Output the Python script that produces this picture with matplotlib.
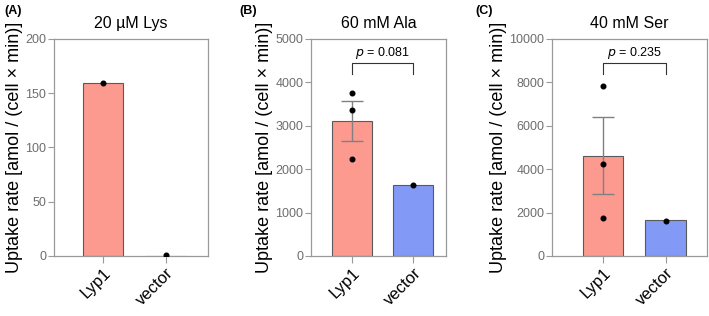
import matplotlib
matplotlib.use("Agg")
import matplotlib.pyplot as plt

plt.rcParams["font.family"] = ["Liberation Sans", "DejaVu Sans"]

# --- data ------------------------------------------------------------------
groups = ["Lyp1", "vector"]

titles = ["20 \u00b5M Lys", "60 mM Ala", "40 mM Ser"]
panel_labels = ["(A)", "(B)", "(C)"]
ymax = [200, 5000, 10000]
ystep = [50, 1000, 2000]

lys_means = [159, 0]
lys_points = [[159], [1]]

ala_means = [3110, 1636]
ala_err = [455, 0]
ala_points = [[3756, 3357, 2242], [1630]]

ser_means = [4622, 1650]
ser_err = [1765, 0]
ser_points = [[7850, 4255, 1767], [1630]]

p_values = [None, "0.081", "0.235"]

# --- styling ---------------------------------------------------------------
COLORS = ["#FC9A90", "#8399F6"]
EDGE = "#5a5a5a"
SPINE = "#9a9a9a"
TICKTXT = "#6e6e6e"

# axes placement in figure fractions (left, width), x limits, panel-label x
layout = [
    (0.0762, 0.2172, (-0.778, 1.667), 4 / 709),
    (0.4386, 0.1904, (-0.667, 1.53), 239 / 709),
    (0.7786, 0.2186, (-0.816, 1.664), 475 / 709),
]
bottom, height = 0.190, 0.687

fig = plt.figure(figsize=(7.09, 3.16), dpi=100)

panels = [
    (lys_means, None, lys_points),
    (ala_means, ala_err, ala_points),
    (ser_means, ser_err, ser_points),
]

for i, (means, err, points) in enumerate(panels):
    left, width, xlim, lab_x = layout[i]
    ax = fig.add_axes([left, bottom, width, height])
    x = list(range(len(groups)))

    ax.bar(x, means, width=0.65, color=COLORS, edgecolor=EDGE, linewidth=0.8, zorder=2)
    if err is not None:
        ax.errorbar(x[0], means[0], yerr=err[0], fmt="none", ecolor="#808080",
                    elinewidth=1.0, capsize=8, capthick=1.0, zorder=3)
    for xi, pts in zip(x, points):
        ax.scatter([xi] * len(pts), pts, s=11, color="black", zorder=4)

    ax.set_xlim(*xlim)
    ax.set_ylim(0, ymax[i])
    ax.set_yticks(range(0, ymax[i] + 1, ystep[i]))
    ax.set_xticks(x)
    ax.set_xticklabels(groups, rotation=45, ha="right", rotation_mode="anchor",
                       fontsize=12)
    ax.tick_params(axis="y", labelsize=9, labelcolor=TICKTXT, color=SPINE,
                   length=4, width=0.8, pad=1.5)
    ax.tick_params(axis="x", color=SPINE, length=5, width=0.8, pad=2)
    for s in ax.spines.values():
        s.set_color(SPINE)
        s.set_linewidth(0.9)

    ax.set_title(titles[i], fontsize=11.5, pad=8)
    ax.set_ylabel("Uptake rate [amol / (cell \u00d7 min)]", fontsize=13, labelpad=2)

    if p_values[i] is not None:
        top = ymax[i] * 0.889
        leg = ymax[i] * 0.838
        ax.plot([0, 0, 1, 1], [leg, top, top, leg], color="#333333", lw=0.8, zorder=3)
        ax.text(0.5, ymax[i] * 0.935, f"$\\it{{p}}$ = {p_values[i]}", ha="center",
                va="center", fontsize=9)

    fig.text(lab_x, 0.985, panel_labels[i], fontsize=9, fontweight="bold",
             ha="left", va="top")

fig.savefig("out.png", dpi=100)
